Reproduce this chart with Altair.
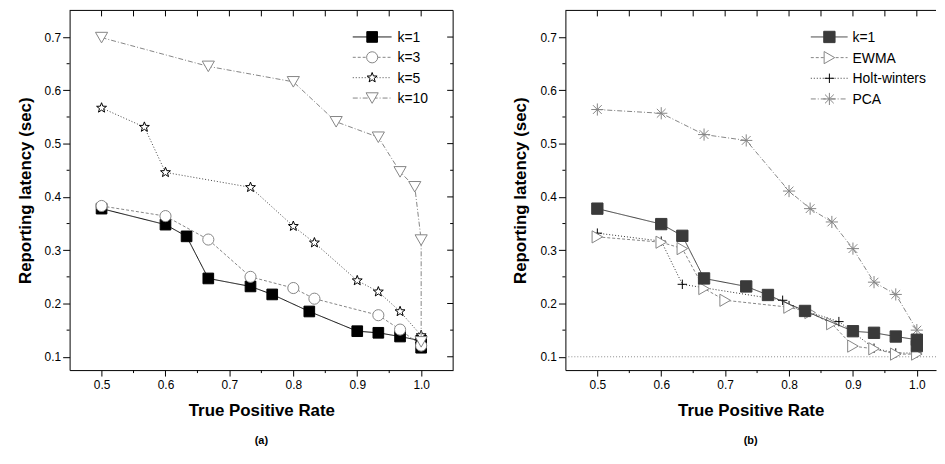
import math
import altair as alt
import pandas as pd

# ---------------- data ----------------
# panel (a)
a_k1_x = [0.5, 0.6, 0.633, 0.667, 0.733, 0.767, 0.825, 0.9, 0.933, 0.967, 1.0, 1.0]
a_k1_y = [0.378, 0.348, 0.326, 0.247, 0.232, 0.217, 0.185, 0.148, 0.145, 0.138, 0.13, 0.117]
a_k3_x = [0.5, 0.6, 0.667, 0.733, 0.8, 0.833, 0.933, 0.967, 1.0]
a_k3_y = [0.383, 0.364, 0.320, 0.250, 0.229, 0.209, 0.178, 0.151, 0.121]
a_k5_x = [0.5, 0.567, 0.6, 0.733, 0.8, 0.833, 0.9, 0.933, 0.967, 1.0]
a_k5_y = [0.567, 0.531, 0.446, 0.418, 0.345, 0.314, 0.243, 0.222, 0.185, 0.140]
a_k10_x = [0.5, 0.667, 0.8, 0.867, 0.933, 0.967, 0.99, 1.0, 1.0]
a_k10_y = [0.699, 0.645, 0.616, 0.541, 0.512, 0.447, 0.419, 0.319, 0.128]

# panel (b)
b_k1_x = [0.5, 0.6, 0.633, 0.667, 0.733, 0.767, 0.825, 0.9, 0.933, 0.967, 1.0, 1.0]
b_k1_y = [0.378, 0.349, 0.327, 0.247, 0.232, 0.216, 0.186, 0.148, 0.145, 0.138, 0.132, 0.12]
b_ewma_x = [0.5, 0.6, 0.633, 0.667, 0.7, 0.8, 0.833, 0.867, 0.9, 0.933, 0.967, 1.0]
b_ewma_y = [0.325, 0.315, 0.303, 0.228, 0.206, 0.193, 0.183, 0.162, 0.12, 0.115, 0.105, 0.105]
b_holt_x = [0.5, 0.6, 0.633, 0.79, 0.8, 0.878, 0.933, 0.967, 1.0]
b_holt_y = [0.332, 0.317, 0.236, 0.206, 0.196, 0.166, 0.116, 0.107, 0.107]
b_pca_x = [0.5, 0.6, 0.667, 0.733, 0.8, 0.833, 0.867, 0.9, 0.933, 0.967, 1.0]
b_pca_y = [0.564, 0.557, 0.517, 0.506, 0.411, 0.378, 0.353, 0.303, 0.240, 0.217, 0.150]

names_a = ["k=1", "k=3", "k=5", "k=10"]
names_b = ["k=1", "EWMA", "Holt-winters", "PCA"]
x_major = [0.5, 0.6, 0.7, 0.8, 0.9, 1.0]
x_minor = [0.55, 0.65, 0.75, 0.85, 0.95]
y_major = [0.1, 0.2, 0.3, 0.4, 0.5, 0.6, 0.7]
y_minor = [0.15, 0.25, 0.35, 0.45, 0.55, 0.65]
ref_line = [0.1]

# ---------------- styling ----------------
FONT = "Liberation Sans"
H = 362
W_A = 386
W_B = 373
XDOM_A = [0.45, 1.05]
XDOM_B = [0.45, 1.03]
YDOM = [0.075, 0.75]
GRAY = "#858585"


def star_path():
    pts = []
    for i in range(10):
        r = 1.0 if i % 2 == 0 else 0.42
        ang = -math.pi / 2 + i * math.pi / 5
        pts.append(f"{r * math.cos(ang):.3f},{r * math.sin(ang):.3f}")
    return "M" + "L".join(pts) + "Z"


STAR = star_path()
PLUS = "M-1,0L1,0M0,-1L0,1"
ASTER = "M-1,0L1,0M0,-1L0,1M-0.72,-0.72L0.72,0.72M-0.72,0.72L0.72,-0.72"

sty = {
    "a_k1": dict(line="black", dash=[1, 0], shape="square", fill="black", stroke="black", size=115),
    "a_k3": dict(line=GRAY, dash=[3, 2], shape="circle", fill="white", stroke=GRAY, size=125),
    "a_k5": dict(line="#444444", dash=[1, 2], shape=STAR, fill="white", stroke="black", size=110),
    "a_k10": dict(line=GRAY, dash=[5, 2, 1, 2], shape="triangle-down", fill="white", stroke=GRAY, size=150),
    "b_k1": dict(line="#3a3a3a", dash=[1, 0], shape="square", fill="#3a3a3a", stroke="#3a3a3a", size=130),
    "b_ewma": dict(line=GRAY, dash=[3, 2], shape="triangle-right", fill="white", stroke=GRAY, size=150),
    "b_holt": dict(line="#333333", dash=[1, 2], shape=PLUS, fill=None, stroke="black", size=90),
    "b_pca": dict(line=GRAY, dash=[5, 2, 1, 2], shape=ASTER, fill=None, stroke=GRAY, size=150),
}

AX_X = alt.Axis(values=x_major, format=".1f", tickSize=6, labelPadding=4, domain=True,
                title="True Positive Rate", titlePadding=12)
AX_Y = alt.Axis(values=y_major, format=".1f", tickSize=7, labelPadding=2, domain=True,
                title="Reporting latency (sec)", titlePadding=10)


def X(field, xdom):
    return alt.X(field, scale=alt.Scale(domain=xdom, nice=False, zero=False), axis=AX_X)


def Y(field):
    return alt.Y(field, scale=alt.Scale(domain=YDOM, nice=False, zero=False), axis=AX_Y)


def point_kw(st):
    kw = dict(shape=st["shape"], size=st["size"], stroke=st["stroke"], strokeWidth=1, opacity=1)
    if st["fill"] is not None:
        kw.update(fill=st["fill"], fillOpacity=1, filled=True)
    else:
        kw.update(filled=False)
    return kw


def series_layers(xv, yv, key, xdom):
    st = sty[key]
    df = pd.DataFrame({"x": xv, "y": yv, "i": list(range(len(xv)))})
    line = alt.Chart(df).mark_line(color=st["line"], strokeDash=st["dash"], strokeWidth=1, clip=True).encode(
        x=X("x:Q", xdom), y=Y("y:Q"), order="i:Q")
    pts = alt.Chart(df).mark_point(**point_kw(st)).encode(x=X("x:Q", xdom), y=Y("y:Q"))
    return [line, pts]


def xticks(vals, xdom, y1, y2):
    df = pd.DataFrame({"x": vals})
    return alt.Chart(df).mark_rule(color="black", strokeWidth=1).encode(
        x=X("x:Q", xdom), y=alt.value(y1), y2=alt.value(y2))


def yticks(vals, x1, x2):
    df = pd.DataFrame({"y": vals})
    return alt.Chart(df).mark_rule(color="black", strokeWidth=1).encode(
        y=Y("y:Q"), x=alt.value(x1), x2=alt.value(x2))


def frame_line(x1, x2, y1, y2):
    one = pd.DataFrame({"a": [0]})
    return alt.Chart(one).mark_rule(color="black", strokeWidth=1).encode(
        x=alt.value(x1), x2=alt.value(x2), y=alt.value(y1), y2=alt.value(y2))


def decorations(xdom, width, with_right):
    out = [xticks(x_minor, xdom, H, H + 3),
           yticks(y_minor, 0, -3),
           xticks(x_major + x_minor, xdom, 0, 6),
           frame_line(0, width, 0, 0)]
    if with_right:
        out += [frame_line(width, width, 0, H),
                yticks(y_major, width, width - 6),
                yticks(y_minor, width, width - 3)]
    return out


def legend_layers(names, keys, x1, x2, xsym, xt, y0, dy):
    one = pd.DataFrame({"a": [0]})
    out = []
    for j, (nm, key) in enumerate(zip(names, keys)):
        st = sty[key]
        yy = y0 + j * dy
        out.append(alt.Chart(one).mark_rule(color=st["line"], strokeDash=st["dash"], strokeWidth=1).encode(
            x=alt.value(x1), x2=alt.value(x2), y=alt.value(yy)))
        out.append(alt.Chart(one).mark_point(**point_kw(st)).encode(x=alt.value(xsym), y=alt.value(yy)))
        out.append(alt.Chart(one).mark_text(align="left", baseline="middle", font=FONT, fontSize=14,
                                            color="black").encode(
            x=alt.value(xt), y=alt.value(yy + 1), text=alt.value(nm)))
    return out


def sub_title(txt):
    return alt.TitleParams(text=txt, orient="bottom", font=FONT, fontSize=11, fontWeight="bold",
                           anchor="middle", frame="group", offset=16, color="black")


# ---------------- panel (a) ----------------
layers_a = decorations(XDOM_A, W_A, True)
for xv, yv, key in [(a_k1_x, a_k1_y, "a_k1"), (a_k3_x, a_k3_y, "a_k3"),
                    (a_k5_x, a_k5_y, "a_k5"), (a_k10_x, a_k10_y, "a_k10")]:
    layers_a += series_layers(xv, yv, key, XDOM_A)
layers_a += legend_layers(names_a, ["a_k1", "a_k3", "a_k5", "a_k10"], 285, 324, 304.5, 330, 26.7, 20.5)
panel_a = alt.layer(*layers_a).properties(width=W_A, height=H, title=sub_title("(a)"))

# ---------------- panel (b) ----------------
ref_df = pd.DataFrame({"y": ref_line})
layers_b = decorations(XDOM_B, W_B, False)
layers_b.append(alt.Chart(ref_df).mark_rule(color="#8c8c8c", strokeDash=[1, 2], strokeWidth=1).encode(
    y=Y("y:Q")))
for xv, yv, key in [(b_pca_x, b_pca_y, "b_pca"), (b_holt_x, b_holt_y, "b_holt"),
                    (b_ewma_x, b_ewma_y, "b_ewma"), (b_k1_x, b_k1_y, "b_k1")]:
    layers_b += series_layers(xv, yv, key, XDOM_B)
layers_b += legend_layers(names_b, ["b_k1", "b_ewma", "b_holt", "b_pca"], 247, 284, 265.7, 289, 26.7, 20.8)
panel_b = alt.layer(*layers_b).properties(width=W_B, height=H, title=sub_title("(b)"))

chart = alt.hconcat(panel_a, panel_b, spacing=58).properties(
    padding={"left": 8, "top": 0, "right": 0, "bottom": 5}
).configure_view(stroke=None).configure_axis(
    grid=False, domainColor="black", tickColor="black", labelColor="black",
    labelFont=FONT, labelFontSize=12, titleFont=FONT, titleFontSize=17,
    titleFontWeight="bold", titleColor="black", domainWidth=1, tickWidth=1
).configure_title(font=FONT)

chart.save("out.html", embed_options={"renderer": "svg", "actions": False})
